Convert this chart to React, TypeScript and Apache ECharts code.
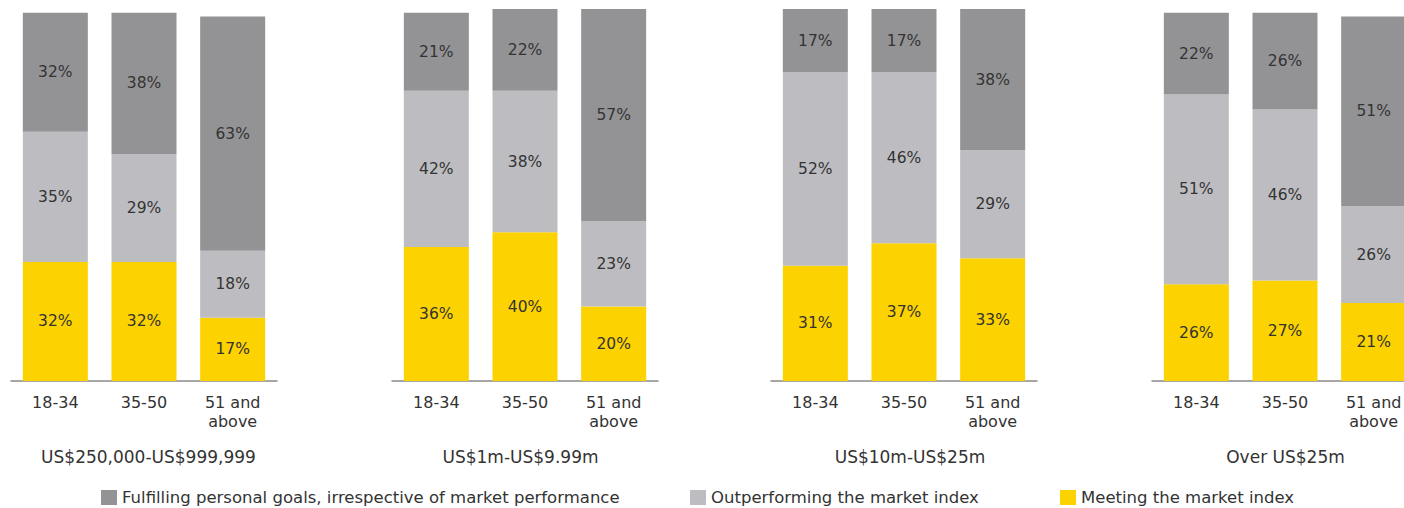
import React, { useEffect, useRef } from "react";
import * as echarts from "echarts";

const ageGroups = ["18-34", "35-50", "51 and\nabove"];
const wealthBands = ["US$250,000-US$999,999", "US$1m-US$9.99m", "US$10m-US$25m", "Over US$25m"];
const seriesNames = [
  "Meeting the market index",
  "Outperforming the market index",
  "Fulfilling personal goals, irrespective of market performance",
];
const meeting = [
  [32, 32, 17],
  [36, 40, 20],
  [31, 37, 33],
  [26, 27, 21],
];
const outperforming = [
  [35, 29, 18],
  [42, 38, 23],
  [52, 46, 29],
  [51, 46, 26],
];
const fulfilling = [
  [32, 38, 63],
  [21, 22, 57],
  [17, 17, 38],
  [22, 26, 51],
];

const colors = ["#FCD200", "#BDBDC1", "#939396"];
const FONT = "DejaVu Sans";
const TEXT = "#333333";

export default function App() {
  const ref = useRef<HTMLDivElement>(null);
  useEffect(() => {
    if (!ref.current) return;
    const chart = echarts.init(ref.current, null, { renderer: "svg" });
    const lefts = [11, 392, 771, 1152];
    const titleCenters = [143.5, 515.5, 905, 1280.5];
    const gridW = 266;
    const grids = lefts.map((l) => ({ left: l, top: 9, width: gridW, height: 372 }));
    const xAxes = lefts.map((_, i) => ({
      type: "category",
      gridIndex: i,
      data: ageGroups,
      axisLine: { lineStyle: { color: "#8a8a8a", width: 1.5 } },
      axisTick: { show: false },
      axisLabel: { color: TEXT, fontSize: 16, fontFamily: FONT, lineHeight: 19, margin: 12, interval: 0 },
    }));
    const yAxes = lefts.map((_, i) => ({
      type: "value",
      gridIndex: i,
      min: 0,
      max: 100,
      show: false,
      splitLine: { show: false },
    }));
    const data = [meeting, outperforming, fulfilling];
    const series: any[] = [];
    lefts.forEach((_, gi) => {
      seriesNames.forEach((name, si) => {
        series.push({
          type: "bar",
          name,
          xAxisIndex: gi,
          yAxisIndex: gi,
          stack: "s" + gi,
          barWidth: 65,
          data: data[si][gi],
          itemStyle: { color: colors[si] },
          label: {
            show: true,
            position: "inside",
            formatter: "{c}%",
            color: TEXT,
            fontSize: 15.5,
            fontFamily: FONT,
          },
        });
      });
    });
    const titles = wealthBands.map((t, i) => ({
      text: t,
      left: titleCenters[i],
      top: 443,
      textAlign: "center",
      textStyle: { color: TEXT, fontSize: 17, fontWeight: "normal", fontFamily: FONT },
    }));
    const legendLefts = [101, 690, 1060];
    const legendOrder = [seriesNames[2], seriesNames[1], seriesNames[0]];
    const legends = legendOrder.map((n, i) => ({
      data: [n],
      left: legendLefts[i],
      top: 489,
      padding: 0,
      icon: "rect",
      itemWidth: 16,
      itemHeight: 15,
      selectedMode: false,
      textStyle: { color: TEXT, fontSize: 16.5, fontFamily: FONT },
    }));
    chart.setOption({
      animation: false,
      backgroundColor: "#ffffff",
      color: colors,
      title: titles,
      legend: legends,
      grid: grids,
      xAxis: xAxes,
      yAxis: yAxes,
      series,
    });
    return () => chart.dispose();
  }, []);
  return (
    <div
      style={{ position: "absolute", left: 0, top: 0, width: 1404, height: 508, overflow: "hidden" }}
    >
      <div ref={ref} style={{ width: 1430, height: 508 }} />
    </div>
  );
}
